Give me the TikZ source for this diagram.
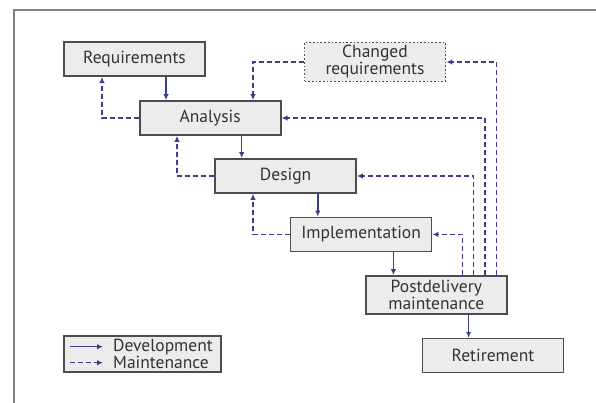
\documentclass[tikz,border=0pt]{standalone}
\usepackage{fontspec}
\setmainfont{PT Sans}
\usetikzlibrary{arrows.meta}
\definecolor{navy}{HTML}{3B3F8C}
\definecolor{boxfill}{HTML}{ECECEC}
\definecolor{boxline}{HTML}{4D4D4D}
\definecolor{txt}{HTML}{333333}
\tikzset{
  box/.style={draw=boxline, line width=1.7pt, fill=boxfill, minimum width=141pt, minimum height=34pt, inner sep=0pt, align=center, text=txt, font=\fontsize{17.5}{17}\selectfont},
  dotbox/.style={box, dotted, line width=1.7pt},
  dev/.style={draw=navy, line width=1.5pt, -{Latex[length=6pt,width=5.5pt]}},
  mnt/.style={draw=navy, line width=1.5pt, dash pattern=on 5pt off 3pt, -{Latex[length=6pt,width=5.5pt]}},
  legtext/.style={anchor=west, inner sep=0pt, text=txt, font=\fontsize{17.5}{17}\selectfont},
}
\begin{document}
\begin{tikzpicture}[x=1pt,y=-1pt]
\useasboundingbox (0,0) rectangle (596,403);
\fill[white] (0,0) rectangle (596,403);
\draw[gray, line width=1.2pt] (14,403) -- (14,10) -- (596,10);
% nodes
\node[box] (req) at (134.5,59.2) {Requirements};
\node[dotbox, minimum height=39pt] (chg) at (375,62) {Changed\\requirements};
\node[box] (ana) at (210.2,118) {Analysis};
\node[box] (des) at (285.6,176) {Design};
\node[box] (imp) at (361.1,234.4) {Implementation};
\node[box, minimum height=38pt] (post) at (436.3,295) {Postdelivery\\maintenance};
\node[box] (ret) at (493,355.6) {Retirement};
\node[box, minimum width=157pt, minimum height=36pt] (leg) at (142.5,354) {};
% columns
\coordinate (c1) at (166,0);
\coordinate (c2) at (241.7,0);
\coordinate (c3) at (317.8,0);
\coordinate (c4) at (393.4,0);
\coordinate (c5) at (468.6,0);
\coordinate (m1) at (102,0);
\coordinate (m2) at (177,0);
\coordinate (m3) at (253,0);
\coordinate (p1) at (462.6,0);
\coordinate (p2) at (473.6,0);
\coordinate (p3) at (485,0);
\coordinate (p4) at (496.4,0);
% development
\draw[dev] (req.south -| c1) -- (ana.north -| c1);
\draw[dev] (ana.south -| c2) -- (des.north -| c2);
\draw[dev] (des.south -| c3) -- (imp.north -| c3);
\draw[dev] (imp.south -| c4) -- (post.north -| c4);
\draw[dev] (post.south -| c5) -- (ret.north -| c5);
% maintenance
\draw[mnt] (ana.west) -| (req.south -| m1);
\draw[mnt] (des.west) -| (ana.south -| m2);
\draw[mnt] (imp.west) -| (des.south -| m3);
\draw[mnt] (chg.west) -| (ana.north -| m3);
\draw[mnt] (post.north -| p1) |- (imp.east);
\draw[mnt] (post.north -| p2) |- (des.east);
\draw[mnt] (post.north -| p3) |- (ana.east);
\draw[mnt] (post.north -| p4) |- (chg.east);
% legend
\coordinate (l1a) at (70,346.7);
\coordinate (l1b) at (103,346.7);
\coordinate (l2a) at (70,362.7);
\coordinate (l2b) at (103,362.7);
\draw[dev] (l1a) -- (l1b);
\draw[mnt] (l2a) -- (l2b);
\node[legtext] (ldev) at (113,346.7) {Development};
\node[legtext] (lmnt) at (113,362.7) {Maintenance};
\end{tikzpicture}
\end{document}
